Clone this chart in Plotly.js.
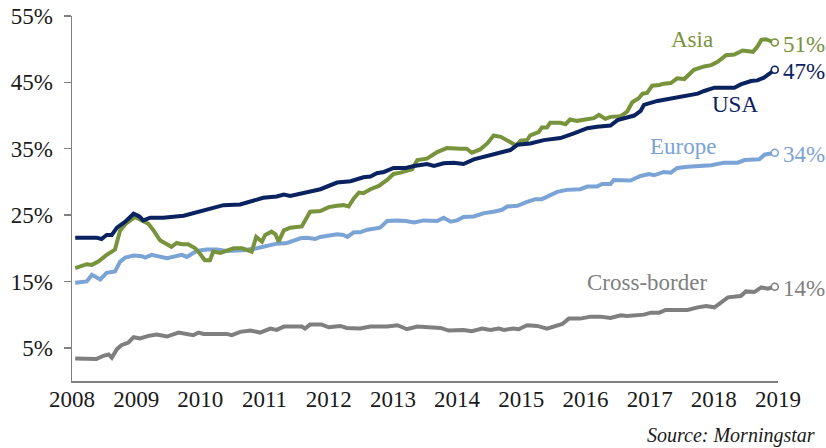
<!DOCTYPE html>
<html>
<head>
<meta charset="utf-8">
<script src="https://cdn.plot.ly/plotly-3.0.1.min.js"></script>
<style>
  html, body { margin: 0; padding: 0; background: #ffffff; }
  #chart { width: 826px; height: 448px; }
</style>
</head>
<body>
<div id="chart"></div>
<script>
// ---- Data (share of assets, %) ----
const yearTicks = [2008, 2009, 2010, 2011, 2012, 2013, 2014, 2015, 2016, 2017, 2018, 2019];
const yTickVals = [5, 15, 25, 35, 45, 55];
const yTickText = ["5%", "15%", "25%", "35%", "45%", "55%"];

const usaX = [2008.05, 2008.38, 2008.46, 2008.54, 2008.62, 2008.70, 2008.83, 2008.96, 2009.05, 2009.11, 2009.22, 2009.42, 2009.74, 2009.94, 2010.20, 2010.36, 2010.62, 2010.83, 2010.98, 2011.19, 2011.30, 2011.40, 2011.66, 2011.87, 2012.13, 2012.34, 2012.54, 2012.65, 2012.75, 2012.86, 2013.01, 2013.20, 2013.33, 2013.53, 2013.64, 2013.79, 2013.95, 2014.10, 2014.26, 2014.47, 2014.68, 2014.83, 2014.94, 2015.14, 2015.35, 2015.61, 2015.82, 2016.03, 2016.18, 2016.39, 2016.50, 2016.76, 2016.86, 2016.91, 2017.12, 2017.28, 2017.43, 2017.59, 2017.75, 2017.85, 2018.01, 2018.32, 2018.42, 2018.58, 2018.68, 2018.78, 2018.95];
const usaY = [21.6, 21.6, 21.4, 22.0, 22.0, 23.1, 24.0, 25.2, 24.8, 24.2, 24.6, 24.6, 24.9, 25.4, 26.0, 26.5, 26.6, 27.2, 27.6, 27.8, 28.1, 27.9, 28.4, 28.9, 29.9, 30.1, 30.7, 30.8, 31.3, 31.5, 32.1, 32.1, 32.4, 32.7, 32.4, 32.8, 32.9, 32.7, 33.4, 33.9, 34.3, 34.8, 35.6, 35.8, 36.3, 36.6, 37.3, 38.1, 38.3, 38.5, 39.3, 40.0, 40.7, 41.6, 42.2, 42.5, 42.8, 43.0, 43.3, 43.7, 44.2, 44.2, 44.7, 45.2, 45.3, 45.7, 46.9];

const asiaX = [2008.05, 2008.23, 2008.31, 2008.41, 2008.54, 2008.67, 2008.75, 2008.85, 2008.98, 2009.09, 2009.19, 2009.27, 2009.37, 2009.48, 2009.55, 2009.63, 2009.71, 2009.81, 2009.92, 2010.00, 2010.07, 2010.15, 2010.20, 2010.31, 2010.41, 2010.52, 2010.65, 2010.72, 2010.80, 2010.87, 2010.96, 2011.01, 2011.11, 2011.17, 2011.22, 2011.30, 2011.40, 2011.58, 2011.71, 2011.87, 2012.00, 2012.13, 2012.23, 2012.31, 2012.39, 2012.47, 2012.54, 2012.65, 2012.78, 2012.91, 2013.01, 2013.12, 2013.30, 2013.38, 2013.53, 2013.69, 2013.84, 2014.05, 2014.15, 2014.23, 2014.36, 2014.47, 2014.57, 2014.68, 2014.81, 2014.92, 2014.99, 2015.09, 2015.14, 2015.27, 2015.32, 2015.40, 2015.45, 2015.61, 2015.69, 2015.76, 2015.87, 2016.13, 2016.21, 2016.31, 2016.39, 2016.55, 2016.65, 2016.73, 2016.83, 2016.89, 2016.96, 2017.04, 2017.15, 2017.22, 2017.33, 2017.43, 2017.54, 2017.61, 2017.69, 2017.85, 2017.96, 2018.06, 2018.19, 2018.32, 2018.45, 2018.61, 2018.68, 2018.74, 2018.81, 2018.95];
const asiaY = [17.0, 17.6, 17.5, 18.0, 19.0, 19.8, 22.7, 23.8, 24.7, 24.2, 23.7, 22.7, 21.2, 20.6, 20.2, 20.8, 20.6, 20.6, 20.0, 19.1, 18.2, 18.2, 19.5, 19.3, 19.7, 20.0, 20.0, 19.7, 19.5, 21.7, 21.0, 22.0, 22.5, 22.1, 21.0, 22.7, 23.1, 23.3, 25.5, 25.6, 26.2, 26.4, 26.5, 26.3, 27.5, 28.4, 28.3, 28.9, 29.4, 30.3, 31.2, 31.4, 31.9, 33.3, 33.5, 34.5, 35.1, 35.0, 35.0, 34.4, 34.9, 35.8, 37.0, 36.8, 36.1, 35.5, 36.2, 36.3, 37.0, 37.5, 38.2, 38.2, 38.9, 38.9, 38.7, 39.4, 39.2, 39.6, 40.1, 39.5, 39.8, 39.9, 40.6, 42.0, 42.6, 43.3, 43.4, 44.5, 44.6, 44.8, 44.9, 45.6, 45.5, 46.1, 46.9, 47.4, 47.6, 48.1, 49.1, 49.2, 49.8, 49.6, 50.4, 51.4, 51.5, 51.0];

const europeX = [2008.05, 2008.23, 2008.31, 2008.44, 2008.54, 2008.67, 2008.75, 2008.83, 2008.96, 2009.09, 2009.14, 2009.24, 2009.48, 2009.58, 2009.71, 2009.79, 2009.94, 2010.10, 2010.26, 2010.41, 2010.67, 2010.88, 2011.04, 2011.19, 2011.35, 2011.45, 2011.56, 2011.66, 2011.79, 2011.87, 2012.00, 2012.13, 2012.23, 2012.29, 2012.39, 2012.49, 2012.60, 2012.73, 2012.80, 2012.91, 2013.07, 2013.20, 2013.33, 2013.48, 2013.58, 2013.69, 2013.79, 2013.90, 2014.00, 2014.10, 2014.26, 2014.42, 2014.57, 2014.70, 2014.78, 2014.94, 2015.09, 2015.22, 2015.32, 2015.40, 2015.56, 2015.71, 2015.92, 2016.03, 2016.18, 2016.26, 2016.39, 2016.44, 2016.70, 2016.86, 2016.99, 2017.07, 2017.22, 2017.33, 2017.43, 2017.59, 2017.75, 2017.96, 2018.16, 2018.37, 2018.48, 2018.71, 2018.79, 2018.95];
const europeY = [14.8, 15.0, 16.0, 15.3, 16.3, 16.5, 18.0, 18.6, 18.9, 18.8, 18.6, 19.0, 18.5, 18.7, 19.0, 18.7, 19.6, 19.8, 19.8, 19.6, 19.7, 20.0, 20.3, 20.7, 20.8, 21.1, 21.5, 21.6, 21.4, 21.7, 21.9, 22.1, 22.0, 21.7, 22.4, 22.4, 22.8, 22.9, 23.1, 24.1, 24.2, 24.1, 23.9, 24.2, 24.2, 24.1, 24.6, 24.0, 24.2, 24.7, 24.8, 25.3, 25.5, 25.8, 26.3, 26.4, 27.0, 27.4, 27.4, 27.8, 28.5, 28.8, 28.9, 29.3, 29.3, 29.7, 29.7, 30.3, 30.2, 30.9, 31.2, 31.0, 31.5, 31.4, 32.1, 32.3, 32.4, 32.5, 32.9, 32.9, 33.3, 33.4, 34.1, 34.4];

const crossX = [2008.05, 2008.28, 2008.38, 2008.49, 2008.57, 2008.62, 2008.70, 2008.77, 2008.88, 2008.96, 2009.06, 2009.19, 2009.32, 2009.48, 2009.66, 2009.89, 2009.97, 2010.05, 2010.41, 2010.49, 2010.62, 2010.78, 2010.93, 2011.09, 2011.19, 2011.30, 2011.58, 2011.63, 2011.71, 2011.89, 2012.00, 2012.18, 2012.28, 2012.49, 2012.65, 2012.91, 2013.07, 2013.22, 2013.38, 2013.74, 2013.87, 2014.10, 2014.23, 2014.39, 2014.52, 2014.65, 2014.73, 2014.88, 2014.96, 2015.09, 2015.25, 2015.40, 2015.56, 2015.64, 2015.74, 2015.92, 2016.08, 2016.23, 2016.39, 2016.55, 2016.65, 2016.91, 2017.02, 2017.15, 2017.25, 2017.59, 2017.75, 2017.88, 2018.01, 2018.11, 2018.22, 2018.42, 2018.50, 2018.63, 2018.74, 2018.84, 2018.95];
const crossY = [3.4, 3.4, 3.3, 3.8, 4.0, 3.5, 4.8, 5.4, 5.8, 6.6, 6.4, 6.8, 7.0, 6.7, 7.3, 6.9, 7.3, 7.1, 7.1, 6.9, 7.4, 7.6, 7.3, 7.9, 7.7, 8.2, 8.2, 7.9, 8.5, 8.5, 8.1, 8.3, 8.0, 7.9, 8.2, 8.2, 8.4, 7.8, 8.2, 8.0, 7.6, 7.7, 7.5, 7.9, 7.7, 7.9, 7.7, 7.9, 7.8, 8.4, 8.3, 7.9, 8.4, 8.6, 9.4, 9.4, 9.7, 9.7, 9.5, 9.9, 9.8, 10.0, 10.3, 10.3, 10.7, 10.7, 11.1, 11.3, 11.1, 11.8, 12.6, 12.8, 13.5, 13.4, 14.1, 13.9, 14.2];

// series names and where their name labels sit (x in years, y in %)
const seriesNames = ["Cross-border", "Europe", "Asia", "USA"];
const nameLabelX = [2016.96, 2017.52, 2017.66, 2018.33];
const nameLabelY = [14.9, 35.3, 51.4, 41.7];

// ---- Styling ----
const colors = {"Cross-border": "#7f7f7f", "Europe": "#7ba3d6", "Asia": "#77933c", "USA": "#0a2260"};
const FONT = "Liberation Serif, 'Times New Roman', Times, serif";

const series = [
  {name: "Cross-border", x: crossX, y: crossY},
  {name: "Europe", x: europeX, y: europeY},
  {name: "Asia", x: asiaX, y: asiaY},
  {name: "USA", x: usaX, y: usaY}
];

const traces = [];
series.forEach(s => {
  traces.push({
    type: "scatter", mode: "lines", x: s.x, y: s.y, name: s.name,
    line: {color: colors[s.name], width: 4, shape: "linear"},
    hoverinfo: "skip"
  });
});
series.forEach(s => {
  const n = s.x.length;
  traces.push({
    type: "scatter", mode: "markers", x: [s.x[n - 1]], y: [s.y[n - 1]],
    marker: {symbol: "circle", size: 7, color: "#ffffff", line: {color: colors[s.name], width: 1.6}},
    hoverinfo: "skip", cliponaxis: false
  });
});

const annotations = [];
series.forEach(s => {
  const n = s.x.length;
  annotations.push({
    x: s.x[n - 1], y: s.y[n - 1], xref: "x", yref: "y",
    text: Math.round(s.y[n - 1]) + "%", showarrow: false,
    xanchor: "left", yanchor: "middle", xshift: 6, yshift: -2,
    font: {family: FONT, size: 23, color: colors[s.name]}
  });
});
seriesNames.forEach((nm, i) => {
  annotations.push({
    x: nameLabelX[i], y: nameLabelY[i], xref: "x", yref: "y",
    text: nm, showarrow: false, xanchor: "center", yanchor: "middle",
    font: {family: FONT, size: 23, color: colors[nm]}
  });
});
annotations.push({
  x: 1.0552, y: -0.148, xref: "paper", yref: "paper",
  text: "<i>Source: Morningstar</i>", showarrow: false,
  xanchor: "right", yanchor: "middle",
  font: {family: FONT, size: 20, color: "#1a1a1a"}
});

const layout = {
  width: 826, height: 448,
  margin: {l: 72, r: 48, t: 16, b: 67, pad: 0},
  paper_bgcolor: "#ffffff", plot_bgcolor: "#ffffff",
  showlegend: false,
  font: {family: FONT, size: 23, color: "#1a1a1a"},
  xaxis: {
    range: [2008, 2019], tickmode: "array", tickvals: yearTicks,
    ticktext: yearTicks.map(String),
    showgrid: false, zeroline: false, showline: true,
    linecolor: "#808080", linewidth: 1.5, ticks: "",
    ticklabelstandoff: -3,
    tickfont: {family: FONT, size: 23, color: "#1a1a1a"}
  },
  yaxis: {
    range: [0, 55], tickmode: "array", tickvals: yTickVals, ticktext: yTickText,
    showgrid: false, zeroline: false, showline: true,
    linecolor: "#808080", linewidth: 1.5,
    ticks: "outside", ticklen: 7, tickwidth: 1.5, tickcolor: "#808080",
    ticklabelstandoff: 6,
    tickfont: {family: FONT, size: 23, color: "#1a1a1a"}
  },
  annotations: annotations
};

Plotly.newPlot("chart", traces, layout, {staticPlot: true, displayModeBar: false});
</script>
</body>
</html>
